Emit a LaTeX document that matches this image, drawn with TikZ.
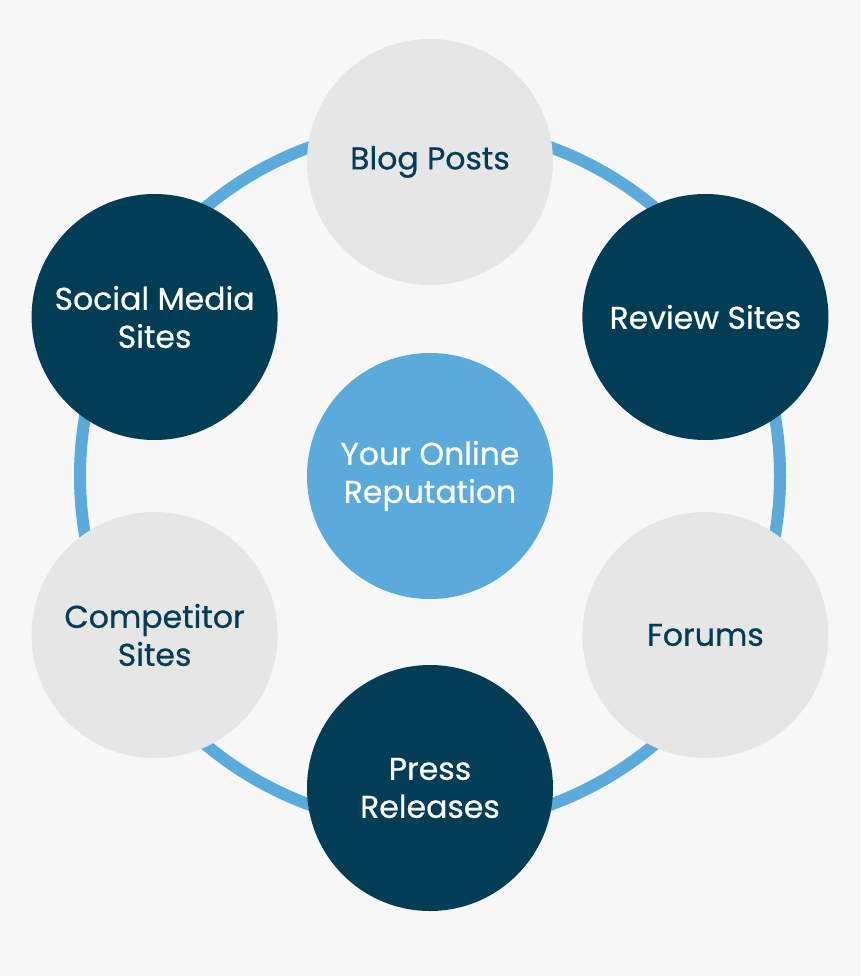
\documentclass[tikz,border=0pt]{standalone}
\usepackage{fontspec}
\setmainfont{Poppins}[FakeBold=0.6]
\newfontfamily\bubblefont{Poppins}[FakeBold=0.6]
\usetikzlibrary{positioning,calc}

\definecolor{navy}{HTML}{023D56}
\definecolor{ringblue}{HTML}{5AAADB}
\definecolor{softgray}{HTML}{E6E6E6}
\definecolor{paper}{HTML}{F7F7F7}

\begin{document}
\begin{tikzpicture}[x=1pt,y=1pt,
  align=center,
  bubble/.style={circle,minimum size=246pt,inner sep=0pt,
    font=\bubblefont\fontsize{31.5}{38}\selectfont},
  dark/.style={bubble,fill=navy,text=white},
  pale/.style={bubble,fill=softgray,text=navy}
  ]

  \fill[paper] (0,0) rectangle (860,-976);
  \useasboundingbox (0,0) rectangle (860,-976);

  \coordinate (hub) at (430,-476);
  \draw[ringblue,line width=12pt] (hub) circle (350);

  \node[bubble,fill=ringblue,text=white] (rep) at (hub) {Your Online\\Reputation};

  \node[pale] (blog) at ($(hub)+(90:314)$) {Blog Posts};
  \node[dark] (review) at ($(hub)+(30:318)$) {Review Sites};
  \node[pale] (forums) at ($(hub)+(-30:318)$) {Forums};
  \node[dark] (press) at ($(hub)+(-90:312)$) {Press\\Releases};
  \node[pale] (rivals) at ($(hub)+(-150:318)$) {Competitor\\Sites};
  \node[dark] (social) at ($(hub)+(150:318)$) {Social Media\\Sites};
\end{tikzpicture}
\end{document}
